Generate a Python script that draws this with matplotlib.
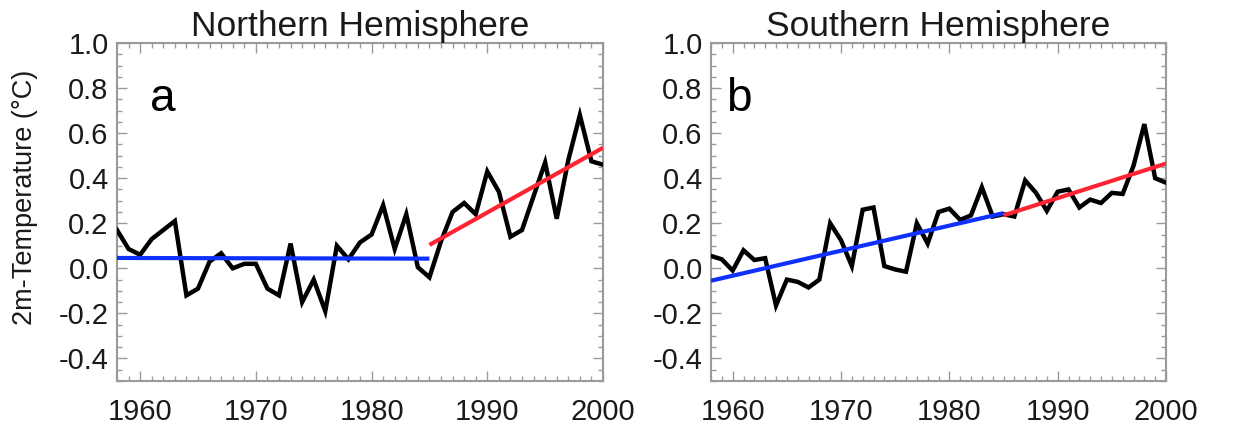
import numpy as np
import matplotlib
matplotlib.use("Agg")
import matplotlib.pyplot as plt
from matplotlib.ticker import MultipleLocator

plt.rcParams['font.family'] = ['Liberation Sans', 'DejaVu Sans']

years = list(range(1958, 2001))

# Annual 2m-temperature anomalies (°C)
nh_temp = [0.17, 0.086, 0.06, 0.13, 0.17, 0.21, -0.12, -0.09, 0.03, 0.067,
           0.0, 0.02, 0.02, -0.09, -0.12, 0.11, -0.15, -0.05, -0.19, 0.10,
           0.04, 0.115, 0.15, 0.28, 0.086, 0.24, 0.005, -0.04, 0.12, 0.25,
           0.29, 0.24, 0.43, 0.34, 0.14, 0.17, 0.32, 0.47, 0.22, 0.48,
           0.68, 0.475, 0.46]
sh_temp = [0.055, 0.04, -0.01, 0.08, 0.037, 0.045, -0.165, -0.05, -0.06, -0.085,
           -0.05, 0.20, 0.125, 0.01, 0.26, 0.27, 0.01, -0.005, -0.015, 0.20,
           0.11, 0.25, 0.265, 0.215, 0.235, 0.36, 0.23, 0.24, 0.23, 0.39,
           0.335, 0.255, 0.34, 0.35, 0.27, 0.305, 0.29, 0.335, 0.33, 0.455,
           0.64, 0.40, 0.38]

# Linear trends: [start, end] years and values
early_years = [1958, 1985]
late_years = [1985, 2000]
nh_trend_early = [0.046, 0.043]
nh_trend_late = [0.104, 0.535]
sh_trend_early = [-0.055, 0.245]
sh_trend_late = [0.235, 0.465]

titles = ["Northern Hemisphere", "Southern Hemisphere"]
panel_letters = ["a", "b"]
y_ticks = [-0.4, -0.2, 0.0, 0.2, 0.4, 0.6, 0.8, 1.0]
x_ticks = [1960, 1970, 1980, 1990, 2000]

W, H = 1249, 429
fig = plt.figure(figsize=(W / 100, H / 100), dpi=100)

def rect(left, top, right, bottom):
    return [left / W, 1 - bottom / H, (right - left) / W, (bottom - top) / H]

axes = [fig.add_axes(rect(117, 43, 603, 381)),
        fig.add_axes(rect(711, 43, 1166, 381))]

blue = "#1030ff"
red = "#ff2434"
frame_gray = "#9a9a9a"

series = [(nh_temp, nh_trend_early, nh_trend_late),
          (sh_temp, sh_trend_early, sh_trend_late)]
letter_x = [0.068, 0.033]

for ax, (temp, tr_e, tr_l), title, letter, lx in zip(axes, series, titles,
                                                      panel_letters, letter_x):
    ax.plot(years, temp, color="black", lw=3.2, solid_joinstyle="miter", zorder=3)
    ax.plot(early_years, tr_e, color=blue, lw=3.0, solid_capstyle="butt", zorder=4)
    ax.plot(late_years, tr_l, color=red, lw=3.0, solid_capstyle="butt", zorder=4)

    ax.set_xlim(1958, 2000)
    ax.set_ylim(-0.5, 1.0)
    ax.set_xticks(x_ticks)
    ax.set_xticklabels([str(t) for t in x_ticks])
    ax.set_yticks(y_ticks)
    ax.set_yticklabels([f"{t:.1f}" for t in y_ticks])
    ax.xaxis.set_minor_locator(MultipleLocator(1))
    ax.yaxis.set_minor_locator(MultipleLocator(0.05))
    ax.tick_params(which="both", direction="in", top=True, right=True,
                   color=frame_gray, width=1.0)
    ax.tick_params(which="major", length=7, labelsize=21, labelcolor="#1a1a1a")
    ax.tick_params(which="minor", length=3.5)
    ax.tick_params(axis="x", which="major", pad=12)
    ax.tick_params(axis="y", which="major", pad=6)
    for s in ax.spines.values():
        s.set_color(frame_gray)
        s.set_linewidth(1.5)
    ax.set_title(title, fontsize=25.5, color="#1a1a1a", pad=5)
    ax.text(lx, 0.80, letter, transform=ax.transAxes, fontsize=33,
            color="black", ha="left", va="baseline")

fig.text(25 / W, 1 - 197 / H, "2m-Temperature (°C)", rotation=90,
         fontsize=19.5, ha="center", va="center", color="#1a1a1a")

fig.savefig("out.png", dpi=100, facecolor="white")
